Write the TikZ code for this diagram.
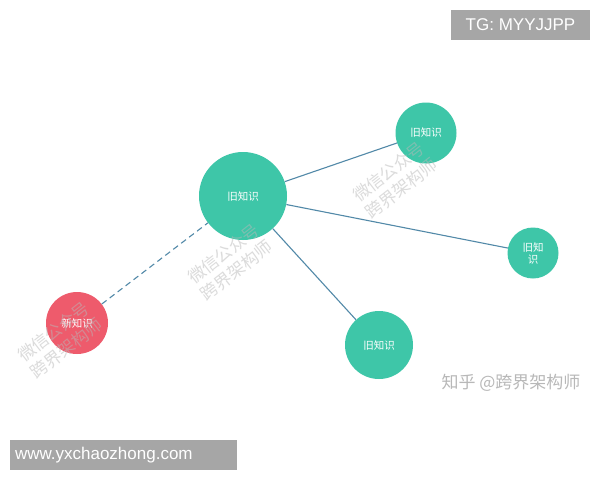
\documentclass[tikz,border=0pt]{standalone}
\usepackage{fontspec}
\setmainfont{Liberation Sans}
\newfontfamily\cjk{Noto Sans CJK SC}
\definecolor{teal1}{HTML}{3EC6A8}
\definecolor{red1}{HTML}{EE5B6C}
\definecolor{link}{HTML}{5289A8}
\definecolor{boxgray}{HTML}{A6A6A6}
\definecolor{wm}{HTML}{B8B8B8}
\begin{document}
\begin{tikzpicture}[x=1pt,y=-1pt,
  knot/.style={circle,fill=teal1,inner sep=0pt,text=white,font=\cjk\fontsize{10.5}{12}\selectfont,align=center},
  newknot/.style={circle,fill=red1,inner sep=0pt,text=white,font=\cjk\fontsize{10.5}{12}\selectfont},
  linkline/.style={draw=link,line width=1.1pt},
  dashlink/.style={draw=link,line width=1.1pt,dash pattern=on 6pt off 4pt},
  tagbox/.style={fill=boxgray,text=white,inner sep=0pt,font=\fontsize{17}{20}\selectfont},
  wmark/.style={text=wm,opacity=0.5,rotate=38,font=\cjk\fontsize{17}{21}\selectfont,align=center}]
\useasboundingbox (0,0) rectangle (600,480);
\fill[white] (0,0) rectangle (600,480);
% nodes
\node[knot,minimum size=88pt] (old) at (243,196) {旧知识};
\node[knot,minimum size=61pt] (oldA) at (426,133) {旧知识};
\node[knot,minimum size=51pt] (oldB) at (533,253) {旧知\\识};
\node[knot,minimum size=68pt] (oldC) at (379,345) {旧知识};
\node[newknot,minimum size=62pt] (new) at (77,323) {新知识};
% connectors
\draw[linkline] (old) -- (oldA);
\draw[linkline] (old) -- (oldB);
\draw[linkline] (old) -- (oldC);
\draw[dashlink] (new) -- (old);
% watermarks
\node[wmark] (wm1) at (395,180) {微信公众号\\跨界架构师};
\node[wmark] (wm2) at (230,262) {微信公众号\\跨界架构师};
\node[wmark] (wm3) at (60,340) {微信公众号\\跨界架构师};
% labels
\node[tagbox,minimum width=139pt,minimum height=30pt] (tg) at (520.5,25) {TG: MYYJJPP};
\node[tagbox,minimum width=227pt,minimum height=30pt,text width=217pt,align=left] (www) at (123.5,455) {www.yxchaozhong.com};
\node[text=wm,font=\cjk\fontsize{17}{20}\selectfont,anchor=west] (zh) at (438,383) {知乎 @跨界架构师};
\end{tikzpicture}
\end{document}
